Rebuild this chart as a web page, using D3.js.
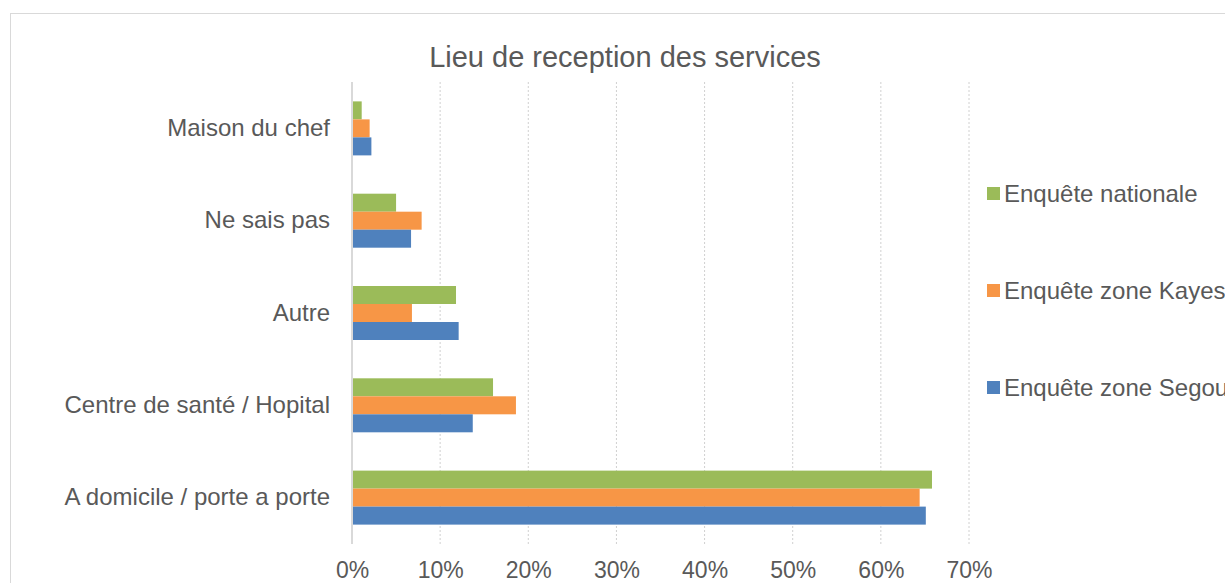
<!DOCTYPE html>
<html>
<head>
<meta charset="utf-8">
<script src="https://cdn.jsdelivr.net/npm/d3@7"></script>
<style>
  body { margin: 0; background: #fff; overflow: hidden; }
  svg { font-family: "Liberation Sans", Arial, sans-serif; }
  .tick text { fill: #595959; }
</style>
</head>
<body>
<div id="chart"></div>
<script>
// categories, top to bottom
var categories = ["Maison du chef", "Ne sais pas", "Autre", "Centre de santé / Hopital", "A domicile / porte a porte"];
var seriesNames = ["Enquête nationale", "Enquête zone Kayes", "Enquête zone Segou"];
var seriesColors = ["#9BBB59", "#F79646", "#4F81BD"];
// values in %
var nationale = [1.1, 5.0, 11.8, 16.0, 65.8];
var kayes     = [2.0, 7.9, 6.8, 18.6, 64.4];
var segou     = [2.2, 6.7, 12.1, 13.7, 65.1];
var xTicks = [0, 10, 20, 30, 40, 50, 60, 70];

var seriesValues = [nationale, kayes, segou];

var W = 1225, H = 583;
var svg = d3.select("#chart").append("svg")
    .attr("width", W)
    .attr("height", H);

// chart frame
svg.append("rect")
    .attr("x", 10.5).attr("y", 13.5)
    .attr("width", W + 10).attr("height", H + 10)
    .attr("fill", "none")
    .attr("stroke", "#d9d9d9");

var plot = { left: 352, right: 969, top: 82, bottom: 544 };

var x = d3.scaleLinear().domain([0, 70]).range([plot.left, plot.right]);
var y = d3.scaleBand().domain(categories).range([plot.top, plot.bottom]).paddingInner(0.415).paddingOuter(0.21);
var ySub = d3.scaleBand().domain(d3.range(seriesNames.length)).range([0, y.bandwidth()]);

// title
svg.append("text")
    .attr("x", 625).attr("y", 67)
    .attr("text-anchor", "middle")
    .style("font-size", "29px")
    .style("fill", "#595959")
    .text("Lieu de reception des services");

// gridlines
svg.append("g").selectAll("line")
    .data(xTicks.slice(1))
    .enter().append("line")
    .attr("x1", d => x(d)).attr("x2", d => x(d))
    .attr("y1", plot.top).attr("y2", plot.bottom)
    .attr("stroke", "#d0d0d0")
    .attr("stroke-width", 1)
    .attr("stroke-dasharray", "2,2");

// bars
categories.forEach(function(cat, i) {
    seriesValues.forEach(function(vals, s) {
        svg.append("rect")
            .attr("x", x(0))
            .attr("y", y(cat) + ySub(s))
            .attr("width", x(vals[i]) - x(0))
            .attr("height", ySub.bandwidth())
            .attr("fill", seriesColors[s]);
    });
});

// y axis line
svg.append("line")
    .attr("x1", plot.left).attr("x2", plot.left)
    .attr("y1", plot.top).attr("y2", plot.bottom)
    .attr("stroke", "#d9d9d9")
    .attr("stroke-width", 2);

// category labels
var yAxis = svg.append("g")
    .attr("transform", "translate(" + (plot.left - 22) + ",0)")
    .call(d3.axisLeft(y).tickSize(0).tickPadding(0));
yAxis.select(".domain").remove();
yAxis.selectAll("text").style("font-size", "24px");

// x tick labels
var xAxis = svg.append("g")
    .attr("transform", "translate(0,562)")
    .call(d3.axisBottom(x).tickValues(xTicks).tickSize(0).tickPadding(0).tickFormat(d => d + "%"));
xAxis.select(".domain").remove();
xAxis.selectAll("text").style("font-size", "23px");

// legend
var legendY = [194, 291, 388];
var legend = svg.append("g");
seriesNames.forEach(function(name, s) {
    legend.append("rect")
        .attr("x", 987).attr("y", legendY[s] - 7)
        .attr("width", 13).attr("height", 13)
        .attr("fill", seriesColors[s]);
    legend.append("text")
        .attr("x", 1004).attr("y", legendY[s])
        .attr("dy", "0.35em")
        .style("font-size", "24px")
        .style("fill", "#595959")
        .text(name);
});
</script>
</body>
</html>
